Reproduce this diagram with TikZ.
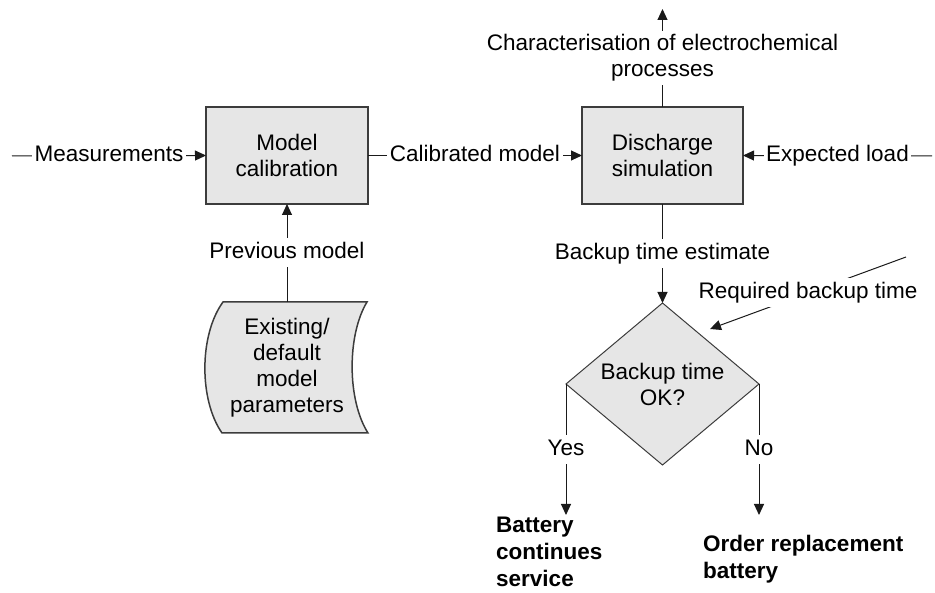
\documentclass[tikz,border=0pt]{standalone}
\usepackage{fontspec}
\setmainfont{Liberation Sans}
\usetikzlibrary{arrows.meta,shapes.geometric}
\definecolor{boxfill}{HTML}{E6E6E6}
\definecolor{boxline}{HTML}{3C3C3C}
\definecolor{wire}{HTML}{1A1A1A}
\tikzset{
  basefont/.style={font=\fontsize{22.5}{26}\selectfont},
  procbox/.style={basefont, draw=boxline, fill=boxfill, line width=1.5pt,
    minimum width=161pt, minimum height=97pt, align=center, inner sep=0pt, outer sep=0pt},
  decision/.style={basefont, diamond, draw=boxline, fill=boxfill, line width=1pt,
    aspect=1.19, minimum width=193pt, minimum height=162pt, align=center,
    inner sep=0pt, outer sep=0pt},
  lab/.style={basefont, fill=white, inner xsep=2.5pt, inner ysep=4pt, align=center},
  lab1/.style={lab, text height=16.5pt, text depth=4.5pt},
  conn/.style={draw=wire, line width=1pt},
  arr/.style={conn, -{Triangle[length=11pt,width=10pt]}},
  outcome/.style={basefont, font=\fontsize{22.5}{27}\selectfont\bfseries,
    align=left, anchor=north west, inner sep=0pt}
}
\begin{document}
\begin{tikzpicture}[x=1pt,y=-1pt]
\useasboundingbox (0,0) rectangle (935,593);

% process boxes
\node[procbox, minimum width=162pt] (mcal) at (287,155.5) {Model\\calibration};
\node[procbox] (dsim) at (662.5,155.5) {Discharge\\simulation};

% stored parameters (curved-sided data shape)
\draw[fill=boxfill, draw=boxline, line width=1.5pt]
  (223,302) -- (367,302)
  .. controls (347,335) and (347,400) .. (368,433)
  -- (222,433)
  .. controls (199,400) and (199,335) .. (223,302) -- cycle;
\node[basefont, align=center, minimum width=162pt, minimum height=131pt,
  inner sep=0pt, outer sep=0pt] (params) at (287,367.5)
  {Existing/\\default\\model\\parameters};

% decision
\node[decision] (chk) at (662.5,384) {Backup time\\OK?};

% free line ends
\coordinate (measin) at (12,156);
\coordinate (loadin) at (932,156);
\coordinate (charout) at (662.5,9);
\coordinate (reqin) at (906,257);
\coordinate (reqtip) at (710,329);
\coordinate (yesend) at (chk.west |- 0,515);
\coordinate (noend) at (chk.east |- 0,515);

% connectors with their labels
\draw[arr] (measin) -- node[lab1] {Measurements} (mcal.west);
\draw[arr] (mcal.east) -- node[lab1] {Calibrated model} (dsim.west);
\draw[arr] (loadin) -- node[lab1] {Expected load} (dsim.east);
\draw[arr] (dsim.north) -- node[lab] {Characterisation of electrochemical\\processes} (charout);
\draw[arr] (params.north) -- node[lab1] {Previous model} (mcal.south);
\draw[arr] (dsim.south) -- node[lab1] {Backup time estimate} (chk.north);
\draw[arr] (reqin) -- node[lab1] {Required backup time} (reqtip);
\draw[arr] (chk.west) -- node[lab1] {Yes} (yesend);
\draw[arr] (chk.east) -- node[lab1] {No} (noend);

% outcomes
\node[outcome] (keep) at (496,517) {Battery\\continues\\service};
\node[outcome] (order) at (703,535) {Order replacement\\battery};
\end{tikzpicture}
\end{document}
